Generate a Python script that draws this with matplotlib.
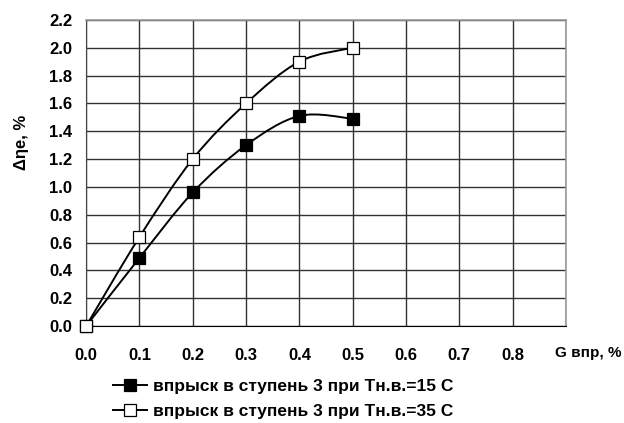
import matplotlib
matplotlib.use("Agg")
import matplotlib.pyplot as plt
from matplotlib.path import Path
from matplotlib.patches import PathPatch
from matplotlib.lines import Line2D

plt.rcParams['font.family'] = ['Liberation Sans', 'DejaVu Sans']

# данные
g_inj = [0.0, 0.1, 0.2, 0.3, 0.4, 0.5]
eta_15 = [0.0, 0.49, 0.96, 1.30, 1.51, 1.49]
eta_35 = [0.0, 0.64, 1.20, 1.60, 1.90, 2.00]
x_ticks = [0.0, 0.1, 0.2, 0.3, 0.4, 0.5, 0.6, 0.7, 0.8]
y_ticks = [0.0, 0.2, 0.4, 0.6, 0.8, 1.0, 1.2, 1.4, 1.6, 1.8, 2.0, 2.2]
labels = ['впрыск в ступень 3 при Тн.в.=15 С',
          'впрыск в ступень 3 при Тн.в.=35 С']


def smooth_path(x, y):
    # сглаженная линия как в Excel (кривые Безье)
    n = len(x)
    verts = [(x[0], y[0])]
    codes = [Path.MOVETO]
    for i in range(n - 1):
        p0 = max(i - 1, 0)
        p3 = min(i + 2, n - 1)
        c1 = (x[i] + (x[i + 1] - x[p0]) / 6, y[i] + (y[i + 1] - y[p0]) / 6)
        c2 = (x[i + 1] - (x[p3] - x[i]) / 6, y[i + 1] - (y[p3] - y[i]) / 6)
        verts += [c1, c2, (x[i + 1], y[i + 1])]
        codes += [Path.CURVE4] * 3
    return Path(verts, codes)


fig = plt.figure(figsize=(6.24, 4.23), dpi=100)
ax = fig.add_axes([0.138, 0.229, 0.769, 0.724])

fs = 12
fw = 'bold'

for ys, fc in [(eta_15, 'black'), (eta_35, 'white')]:
    ax.add_patch(PathPatch(smooth_path(g_inj, ys), fill=False, lw=1.4,
                           color='black', zorder=3))
    ax.plot(g_inj, ys, ls='none', marker='s', ms=8, mfc=fc, mec='black',
            mew=0.9, zorder=4, clip_on=False)

ax.set_xlim(0, 0.9)
ax.set_ylim(0, 2.2)
ax.set_xticks(x_ticks + [0.9])
ax.set_xticklabels(['%.1f' % v for v in x_ticks] + [''], fontsize=fs, fontweight=fw)
ax.set_yticks(y_ticks)
ax.set_yticklabels(['%.1f' % v for v in y_ticks], fontsize=fs, fontweight=fw)
ax.tick_params(axis='both', length=0)
ax.tick_params(axis='x', pad=16)
ax.tick_params(axis='y', pad=10)
ax.grid(True, color='#333333', lw=1.0)
ax.set_axisbelow(True)
for s in ['top', 'right']:
    ax.spines[s].set_color('#999999')
    ax.spines[s].set_linewidth(1.2)
ax.spines['left'].set_color('#444444')
ax.spines['bottom'].set_color('black')

ax.text(1.115, -0.088, 'G впр, %', transform=ax.transAxes,
        ha='right', va='center', fontsize=11, fontweight=fw)

ax.set_ylabel('Δηe, %', fontsize=fs, fontweight=fw)
ax.yaxis.set_label_coords(-0.118, 0.6)

handles = [Line2D([], [], color='black', lw=1.4, marker='s', ms=8,
                  mfc=fc, mec='black', mew=0.9) for fc in ['black', 'white']]
fig.legend(handles, labels, loc='upper left', bbox_to_anchor=(0.181, 0.104),
           frameon=False, prop={'weight': fw, 'size': 12.5},
           handlelength=1.95, handletextpad=0.35, labelspacing=0.55,
           borderaxespad=0, borderpad=0)

fig.savefig('out.png', dpi=100)
